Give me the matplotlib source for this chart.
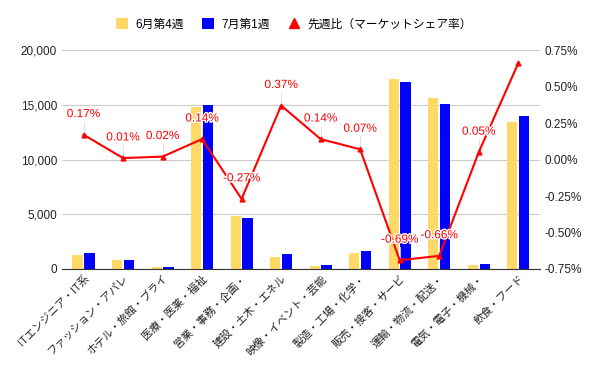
import numpy as np
import matplotlib.pyplot as plt
import matplotlib.patheffects as pe
import matplotlib.transforms as mtransforms
from matplotlib.patches import Patch
from matplotlib.lines import Line2D
from matplotlib.ticker import FuncFormatter

plt.rcParams['font.family'] = ['Liberation Sans', 'Noto Sans CJK JP', 'DejaVu Sans']

categories = ['ITエンジニア・IT系', 'ファッション・アパレ', 'ホテル・旅館・ブライ', '医療・医薬・福祉',
              '営業・事務・企画・', '建設・土木・エネル', '映像・イベント・芸能', '製造・工場・化学・',
              '販売・接客・サービ', '運輸・物流・配送・', '電気・電子・機械・', '飲食・フード']
june_w4 = [1300, 850, 150, 14800, 4800, 1100, 300, 1500, 17400, 15600, 400, 13400]
july_w1 = [1500, 850, 200, 15000, 4650, 1400, 400, 1600, 17050, 15100, 500, 14000]
share_diff = [0.17, 0.01, 0.02, 0.14, -0.27, 0.37, 0.14, 0.07, -0.69, -0.66, 0.05, 0.66]
show_label = [True] * 11 + [False]

yellow = '#ffd966'
blue = '#0000ff'
red = '#ff0000'

fig = plt.figure(figsize=(6, 3.71), dpi=100)
ax = fig.add_axes([0.103, 0.275, 0.797, 0.59])
ax2 = ax.twinx()

x = np.arange(len(categories))
w = 0.26
ax.bar(x - w / 2 - 0.02, june_w4, w, color=yellow, zorder=2)
ax.bar(x + w / 2 + 0.02, july_w1, w, color=blue, zorder=2)
ax.set_ylim(0, 20000)
ax.set_yticks([0, 5000, 10000, 15000, 20000])
ax.yaxis.set_major_formatter(FuncFormatter(lambda v, p: f'{int(v):,}'))
ax.grid(axis='y', color='#cccccc', linewidth=0.8, zorder=0)
ax.set_axisbelow(True)
ax.set_xlim(-0.55, len(categories) - 0.45)
ax.set_xticks(x)
ax.set_xticklabels(categories, rotation=45, ha='right', rotation_mode='anchor', fontsize=7.8)
# shift the rotated labels a little to the right, like the original
shift = mtransforms.ScaledTranslation(9 / 72, -3 / 72, fig.dpi_scale_trans)
for lbl in ax.get_xticklabels():
    lbl.set_transform(lbl.get_transform() + shift)

ax2.plot(x, share_diff, color=red, linewidth=1.5, marker='^', markersize=3.5, zorder=3)
ax2.set_ylim(-0.75, 0.75)
ax2.set_yticks([-0.75, -0.5, -0.25, 0, 0.25, 0.5, 0.75])
ax2.yaxis.set_major_formatter(FuncFormatter(lambda v, p: f'{v:.2f}%'))
for xi, v, s in zip(x, share_diff, show_label):
    if not s:
        continue
    ax2.plot([xi, xi], [v, v + 0.09], color='#dddddd', linewidth=0.6, zorder=2)
    ax2.text(xi, v + 0.1, f'{v:.2f}%', color=red, fontsize=8.5, ha='center', va='bottom',
             path_effects=[pe.withStroke(linewidth=2, foreground='white')], zorder=4)

for a in (ax, ax2):
    a.tick_params(axis='y', length=0, labelsize=8.5, colors='#222222')
    for sp in a.spines.values():
        sp.set_visible(False)
ax.tick_params(axis='x', length=0, colors='#222222', pad=3)
ax.spines['bottom'].set_visible(True)
ax.spines['bottom'].set_color('#333333')

handles = [Patch(facecolor=yellow, label='6月第4週'),
           Patch(facecolor=blue, label='7月第1週'),
           Line2D([], [], color=red, marker='^', linestyle='none', markersize=7, label='先週比（マーケットシェア率）')]
fig.legend(handles=handles, loc='upper center', bbox_to_anchor=(0.49, 0.98), ncol=3, frameon=False,
           fontsize=8.5, handlelength=1.0, handleheight=1.0, columnspacing=1.6, handletextpad=0.6)

fig.savefig('out.png', dpi=100)
